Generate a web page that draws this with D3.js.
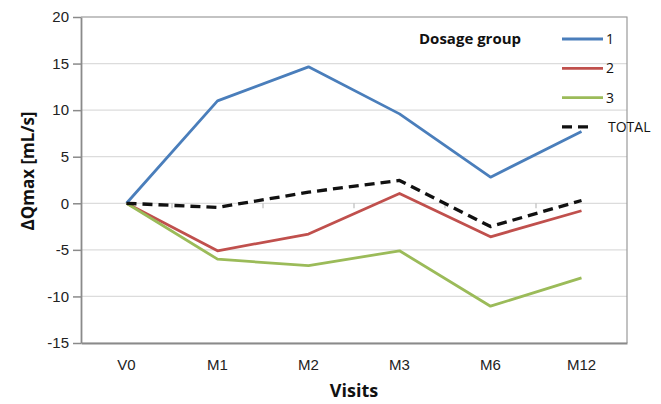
<!DOCTYPE html>
<html>
<head>
<meta charset="utf-8">
<script src="https://cdn.jsdelivr.net/npm/d3@7"></script>
<style>
  body { margin: 0; background: #fff; }
  svg { font-family: "Open Sans", "Noto Sans", sans-serif; }
</style>
</head>
<body>
<svg class="graph" width="661" height="404"></svg>
<script>
var visits = ["V0", "M1", "M2", "M3", "M6", "M12"];
var group1 = [0, 11.0, 14.65, 9.6, 2.8, 7.7];
var group2 = [0, -5.1, -3.3, 1.05, -3.6, -0.8];
var group3 = [0, -6.0, -6.7, -5.1, -11.05, -8.0];
var total = [0, -0.45, 1.2, 2.45, -2.5, 0.3];
var yTicks = [-15, -10, -5, 0, 5, 10, 15, 20];

var series = [
  {name: "1", values: group1, color: "#4a7ebb", dash: null},
  {name: "2", values: group2, color: "#c0504d", dash: null},
  {name: "3", values: group3, color: "#9bbb59", dash: null},
  {name: "TOTAL", values: total, color: "#111", dash: "10,6"}
];

var svg = d3.select("svg.graph"),
  margin = {top: 17, right: 34, bottom: 61, left: 81},
  width = +svg.attr("width") - margin.left - margin.right,
  height = +svg.attr("height") - margin.top - margin.bottom,
  g = svg.append("g").attr("transform", "translate(" + margin.left + "," + margin.top + ")");

var x = d3.scaleBand().domain(visits).range([0, width]).paddingInner(0);
var y = d3.scaleLinear().domain([-15, 20]).range([height, 0]);
var cx = function(i) { return x(visits[i]) + x.bandwidth() / 2; };

// gridlines
g.append("g")
  .selectAll("line")
  .data(yTicks)
  .enter().append("line")
    .attr("x1", 0).attr("x2", width)
    .attr("y1", function(d) { return y(d); })
    .attr("y2", function(d) { return y(d); })
    .attr("stroke", "#dcdcdc").attr("stroke-width", 1.2);

// plot border (top / right)
g.append("path")
  .attr("d", "M0,0H" + width + "V" + height)
  .attr("fill", "none").attr("stroke", "#9a9a9a").attr("stroke-width", 1.2);

// left axis, plain hyphen for negatives like the original
var yAxis = g.append("g")
  .call(d3.axisLeft(y).tickValues(yTicks).tickFormat(function(d) { return String(d); })
    .tickSize(8).tickPadding(4).tickSizeOuter(0));
yAxis.select(".domain").attr("stroke", "#8a8a8a").attr("stroke-width", 1.8);
yAxis.selectAll(".tick line").attr("stroke", "#8a8a8a").attr("stroke-width", 1.5);
yAxis.selectAll("text").attr("font-size", 15).attr("fill", "#222");

// bottom line + labels
var xAxis = g.append("g")
  .attr("transform", "translate(0," + height + ")")
  .call(d3.axisBottom(x).tickSize(0).tickPadding(16));
xAxis.select(".domain").attr("stroke", "#8a8a8a").attr("stroke-width", 1.8);
xAxis.selectAll("text").attr("font-size", 15).attr("fill", "#222");

// category tick marks on the zero line
g.append("g")
  .selectAll("line")
  .data(visits.slice(1))
  .enter().append("line")
    .attr("x1", function(d) { return x(d); })
    .attr("x2", function(d) { return x(d); })
    .attr("y1", y(0)).attr("y2", y(0) + 5)
    .attr("stroke", "#bdbdbd").attr("stroke-width", 1.2);

// lines
var line = d3.line()
  .x(function(d, i) { return cx(i); })
  .y(function(d) { return y(d); });

g.append("g")
  .selectAll("path")
  .data(series)
  .enter().append("path")
    .attr("d", function(d) { return line(d.values); })
    .attr("fill", "none")
    .attr("stroke", function(d) { return d.color; })
    .attr("stroke-width", function(d) { return d.dash ? 3.3 : 2.8; })
    .attr("stroke-dasharray", function(d) { return d.dash; })
    .attr("stroke-linejoin", "round");

// legend
var legend = svg.append("g").attr("transform", "translate(562,39)");
legend.append("text")
  .attr("x", -143).attr("y", 0).attr("dy", "0.35em")
  .attr("font-size", 15).attr("font-weight", "bold").attr("fill", "#111")
  .text("Dosage group");
var item = legend.selectAll("g.item")
  .data(series)
  .enter().append("g")
    .attr("class", "item")
    .attr("transform", function(d, i) { return "translate(0," + (i * 29.3) + ")"; });
item.append("line")
  .attr("x1", 0).attr("x2", function(d) { return d.dash ? 31 : 41; })
  .attr("y1", 0).attr("y2", 0)
  .attr("stroke", function(d) { return d.color; })
  .attr("stroke-width", function(d) { return d.dash ? 3.3 : 2.8; })
  .attr("stroke-dasharray", function(d) { return d.dash; });
item.append("text")
  .attr("x", function(d) { return d.dash ? 46 : 44; })
  .attr("dy", "0.35em")
  .attr("font-size", 14).attr("fill", "#111")
  .text(function(d) { return d.name; });

// axis titles
svg.append("text")
  .attr("transform", "translate(34,171) rotate(-90)")
  .attr("text-anchor", "middle")
  .attr("font-size", 17).attr("font-weight", "bold").attr("fill", "#111")
  .text("ΔQmax [mL/s]");
svg.append("text")
  .attr("x", margin.left + width / 2).attr("y", 397)
  .attr("text-anchor", "middle")
  .attr("font-size", 18).attr("font-weight", "bold").attr("fill", "#111")
  .text("Visits");
</script>
</body>
</html>
